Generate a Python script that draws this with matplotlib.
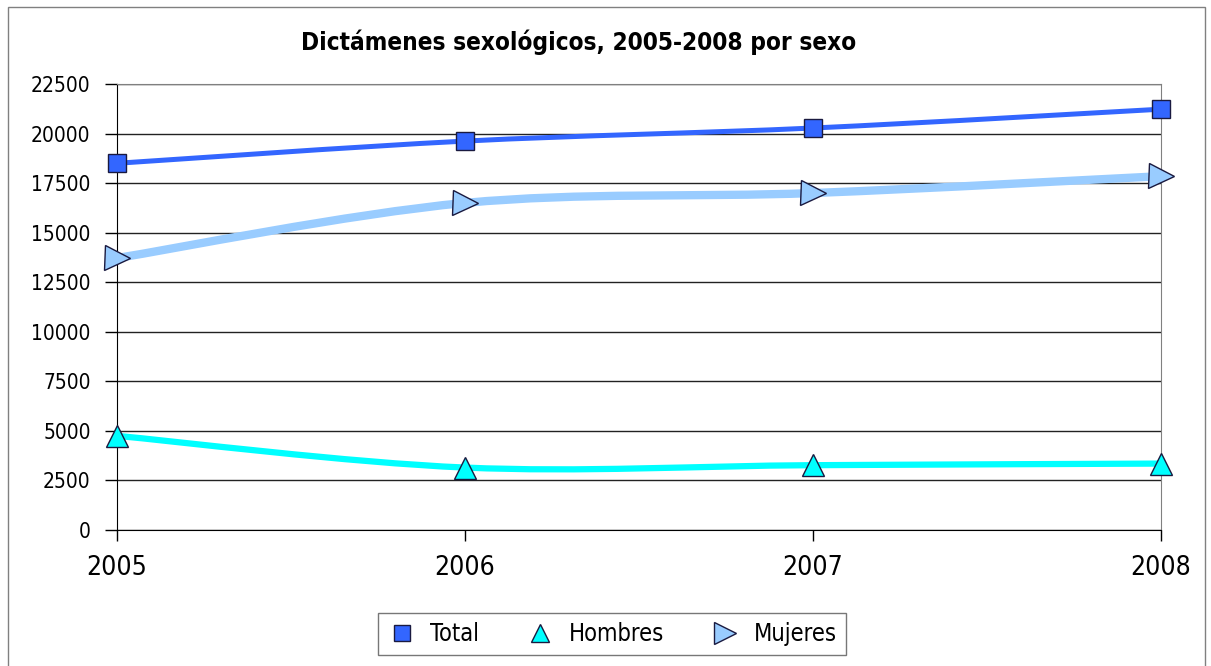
import matplotlib
matplotlib.use('Agg')
import matplotlib.pyplot as plt
from matplotlib.path import Path
from matplotlib.patches import PathPatch, Rectangle
from matplotlib.lines import Line2D

years = [2005, 2006, 2007, 2008]
total = [18500, 19620, 20280, 21230]
hombres = [4750, 3150, 3270, 3350]
mujeres = [13720, 16500, 17000, 17850]

yticks = list(range(0, 22501, 2500))

plt.rcParams['font.family'] = ['DejaVu Sans']
plt.rcParams['font.stretch'] = 'condensed'


def smooth_path(xs, ys):
    # excel-style smoothed line: cubic bezier with catmull-rom handles
    pts = list(zip(xs, ys))
    n = len(pts)
    verts = [pts[0]]
    codes = [Path.MOVETO]
    for i in range(n - 1):
        p0 = pts[i - 1] if i > 0 else pts[i]
        p1 = pts[i]
        p2 = pts[i + 1]
        p3 = pts[i + 2] if i + 2 < n else pts[i + 1]
        c1 = (p1[0] + (p2[0] - p0[0]) / 6, p1[1] + (p2[1] - p0[1]) / 6)
        c2 = (p2[0] - (p3[0] - p1[0]) / 6, p2[1] - (p3[1] - p1[1]) / 6)
        verts += [c1, c2, p2]
        codes += [Path.CURVE4] * 3
    return Path(verts, codes)


fig = plt.figure(figsize=(12.11, 6.66), dpi=100)
ax = fig.add_axes([117 / 1211, 1 - 530 / 666, (1161 - 117) / 1211, (530 - 84) / 666])

series = [
    (total, '#3366FF', 3.6, 's', 13, 'Total'),
    (hombres, '#00FFFF', 4.5, '^', 16, 'Hombres'),
    (mujeres, '#99CCFF', 6.0, '>', 18, 'Mujeres'),
]

handles = []
for vals, col, lw, mk, ms, name in series:
    ax.add_patch(PathPatch(smooth_path(years, vals), fill=False, edgecolor=col,
                           lw=lw, capstyle='butt', zorder=3, clip_on=False))
    ax.plot(years, vals, linestyle='none', marker=mk, markersize=ms,
            markerfacecolor=col, markeredgecolor='#1a1a40', markeredgewidth=1,
            zorder=4, clip_on=False)
    handles.append(Line2D([], [], linestyle='none', marker=mk, markersize=ms * 0.85,
                          markerfacecolor=col, markeredgecolor='#1a1a40',
                          markeredgewidth=1, label=name))

ax.set_xlim(2005, 2008)
ax.set_ylim(0, 22500)
ax.set_yticks(yticks)
ax.set_xticks(years)
ax.set_xticklabels([str(y) for y in years], fontsize=19)
ax.tick_params(axis='y', labelsize=15, length=9, width=1, pad=10, colors='black')
ax.tick_params(axis='x', length=8, width=1, pad=10, colors='black')
ax.yaxis.grid(True, color='#222222', linewidth=1)
ax.set_axisbelow(True)

ax.spines['left'].set_color('black')
ax.spines['bottom'].set_color('black')
ax.spines['top'].set_color('#808080')
ax.spines['right'].set_color('#808080')

fig.text(0.478, 1 - 42 / 666, 'Dictámenes sexológicos, 2005-2008 por sexo',
         ha='center', va='center', fontsize=17.5, fontweight='bold')

leg = fig.legend(handles=handles, loc='center', bbox_to_anchor=(612 / 1211, 1 - 634 / 666),
                 ncol=3, fontsize=17, frameon=True, fancybox=False,
                 edgecolor='#555555', columnspacing=2.0, handletextpad=0.6,
                 borderpad=0.4, handlelength=1.2)
leg.get_frame().set_linewidth(1)

fig.patches.append(Rectangle((8 / 1211, -0.01), (1205 - 8) / 1211, 1.01 - 7 / 666,
                             transform=fig.transFigure, fill=False,
                             edgecolor='#808080', linewidth=1))

fig.savefig('out.png', dpi=100)
